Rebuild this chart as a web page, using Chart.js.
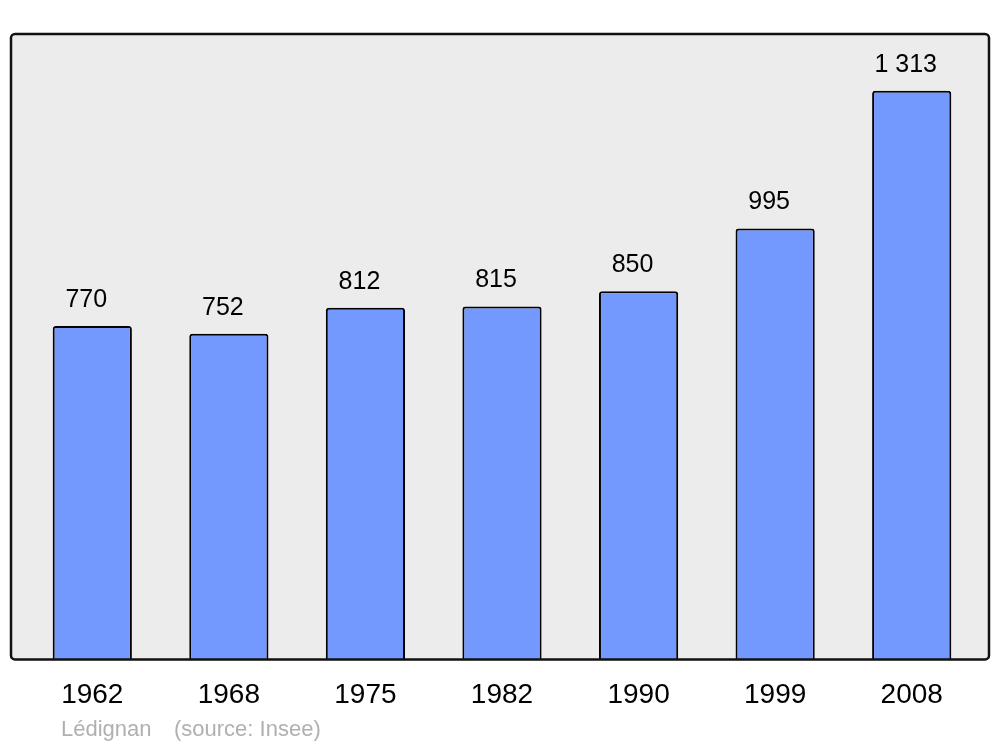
<!DOCTYPE html>
<html>
<head>
<meta charset="utf-8">
<script src="https://cdn.jsdelivr.net/npm/chart.js@4/dist/chart.umd.min.js"></script>
<style>
  body { margin: 0; background: #fff; }
</style>
</head>
<body>
<canvas id="chart" width="1000" height="747"></canvas>
<script>
var years = ['1962', '1968', '1975', '1982', '1990', '1999', '2008']
var population = [770, 752, 812, 815, 850, 995, 1313]
var footerText = ['Lédignan', '(source: Insee)']

var fontName = '"Liberation Sans", Arial, sans-serif'

function fmt(n) {
    return String(n).replace(/\B(?=(\d{3})+(?!\d))/g, ' ')
}

// grey box behind bars + black frame on top
var framePlugin = {
    id: 'frame',
    beforeDatasetsDraw: function (chart) {
        var a = chart.chartArea
        var ctx = chart.ctx
        ctx.save()
        ctx.beginPath()
        ctx.roundRect(a.left - 13, a.top, a.right - a.left + 22, a.bottom - a.top, 4)
        ctx.fillStyle = '#ececec'
        ctx.fill()
        ctx.restore()
    },
    afterDatasetsDraw: function (chart) {
        var a = chart.chartArea
        var ctx = chart.ctx
        ctx.save()
        ctx.beginPath()
        ctx.roundRect(a.left - 13, a.top, a.right - a.left + 22, a.bottom - a.top, 4)
        ctx.lineWidth = 2.5
        ctx.strokeStyle = '#111'
        ctx.stroke()

        // value labels above bars
        var meta = chart.getDatasetMeta(0)
        ctx.font = '25px ' + fontName
        ctx.fillStyle = '#000'
        ctx.textAlign = 'center'
        ctx.textBaseline = 'middle'
        meta.data.forEach(function (bar, i) {
            ctx.fillText(fmt(population[i]), bar.x - 6, bar.y - 26)
        })

        // footer
        ctx.font = '22px ' + fontName
        ctx.fillStyle = '#b0b0b0'
        ctx.textAlign = 'left'
        ctx.fillText(footerText[0], 61, 730)
        ctx.fillText(footerText[1], 174, 730)
        ctx.restore()
    }
}

var ctx = document.getElementById('chart').getContext('2d')
var myChart = new Chart(ctx, {
    type: 'bar',
    data: {
        labels: years,
        datasets: [{
            data: population,
            backgroundColor: '#7399ff',
            borderColor: '#000',
            borderWidth: 2,
            borderSkipped: 'bottom',
            borderRadius: { topLeft: 3, topRight: 3 },
            barPercentage: 0.58,
            categoryPercentage: 1
        }]
    },
    options: {
        responsive: false,
        animation: false,
        layout: { padding: { left: 24, right: 20, top: 34, bottom: 16 } },
        plugins: {
            legend: { display: false },
            tooltip: { enabled: false }
        },
        scales: {
            x: {
                grid: { display: false, drawTicks: false },
                border: { display: false },
                ticks: {
                    color: '#000',
                    padding: 19,
                    font: { family: fontName, size: 28 }
                }
            },
            y: {
                display: false,
                min: 0,
                max: 1444
            }
        }
    },
    plugins: [framePlugin]
})
</script>
</body>
</html>
